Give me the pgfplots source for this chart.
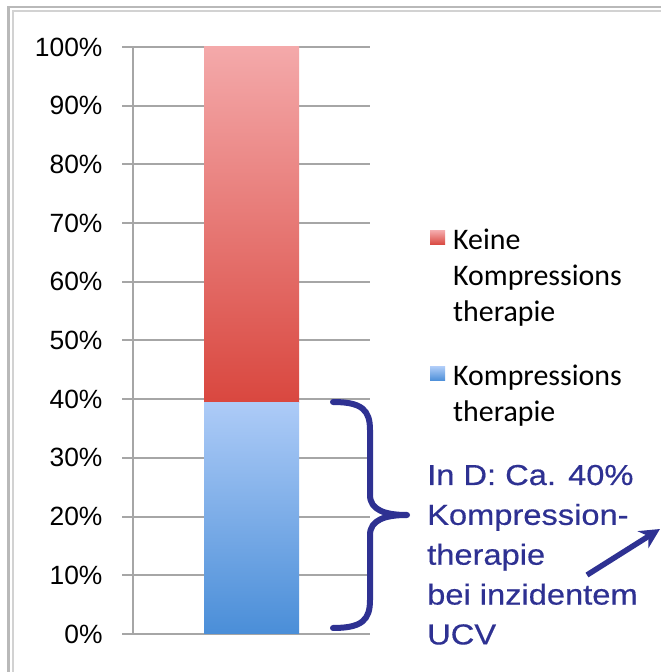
\documentclass[border=0pt]{standalone}
\usepackage{fontspec}
\setmainfont{Liberation Sans}
\newfontfamily\carlito{Carlito}
\newfontfamily\widefont[FakeStretch=1.13,FakeBold=0.4]{Liberation Sans}
\usepackage{pgfplots}
\pgfplotsset{compat=1.18}
\usetikzlibrary{arrows.meta}
\definecolor{redtop}{HTML}{F4A9AA}
\definecolor{redbot}{HTML}{D9473F}
\definecolor{bluetop}{HTML}{ADCBF7}
\definecolor{bluebot}{HTML}{4A8ED8}
\definecolor{annot}{HTML}{2E3192}
\definecolor{gridgray}{HTML}{A6A6A6}
\begin{document}
\begin{tikzpicture}
\useasboundingbox (0,0) rectangle (661bp,672bp);
\clip (0,0) rectangle (661bp,672bp);
\fill[white] (0,0) rectangle (661bp,672bp);
\draw[gray!55, line width=2.5bp] (8.5bp,-20bp) rectangle (700bp,665bp);
\draw[gray!35, line width=1.5bp] (13bp,-20bp) rectangle (700bp,661bp);
\begin{axis}[
  at={(133bp,38bp)}, anchor=south west,
  scale only axis, width=237bp, height=587bp,
  xmin=0, xmax=1, ymin=0, ymax=100,
  ybar stacked, bar width=95bp,
  xtick=\empty,
  ytick={0,10,...,100},
  yticklabel={\pgfmathprintnumber{\tick}\%},
  /pgf/number format/assume math mode=true,
  tick label style={font=\fontsize{26.5}{30}\selectfont},
  yticklabel style={xshift=-16bp},
  ymajorgrids, grid style={gridgray, line width=2bp},
  ytick pos=left, tick align=outside, major tick length=11bp,
  ytick style={gridgray, line width=2bp},
  axis line style={draw=none},
  clip=false,
  reverse legend,
  legend style={draw=none, fill=none, at={(1.253,0.690)}, anchor=north west,
    font=\carlito\fontsize{30}{36}\selectfont, column sep=8bp, row sep=114bp,
    inner sep=0pt, nodes={inner sep=0pt}, cells={anchor=base west}},
]
\addplot[draw=none, top color=bluetop, bottom color=bluebot,
  legend image code/.code={\fill[top color=bluetop,bottom color=bluebot] (0bp,5bp) rectangle (15bp,19bp);}]
  coordinates {(0.5,39.4)};
\addlegendentry{\parbox[t]{190bp}{\raggedright Kompressions\\therapie}}
\addplot[draw=none, top color=redtop, bottom color=redbot,
  legend image code/.code={\fill[top color=redtop,bottom color=redbot] (0bp,5bp) rectangle (15bp,19bp);}]
  coordinates {(0.5,60.6)};
\addlegendentry{\parbox[t]{190bp}{\raggedright Keine\\Kompressions\\therapie}}
\draw[gridgray, line width=2bp] (axis cs:0,0) -- (axis cs:0,100);
\end{axis}
\draw[annot, line width=6bp, line cap=round, line join=round]
  (333bp,270bp) .. controls (362bp,270bp) and (370bp,262bp) .. (370bp,242bp)
  -- (370bp,177bp) .. controls (370bp,162bp) and (385bp,157bp) .. (407bp,157bp)
  .. controls (385bp,157bp) and (370bp,152bp) .. (370bp,137bp)
  -- (370bp,72bp) .. controls (370bp,52bp) and (362bp,44bp) .. (333bp,44bp);
\node[anchor=base west, inner sep=0pt, text=annot] at (427bp,187bp)
  {\parbox[t]{240bp}{\widefont\fontsize{29}{40}\selectfont\raggedright In D: Ca. 40\%\\Kompression-\\therapie\\bei inzidentem\\UCV}};
\draw[annot, line width=5.5bp, -{Stealth[length=20bp,width=20bp]}] (587bp,97bp) -- (660bp,143bp);
\end{tikzpicture}
\end{document}
